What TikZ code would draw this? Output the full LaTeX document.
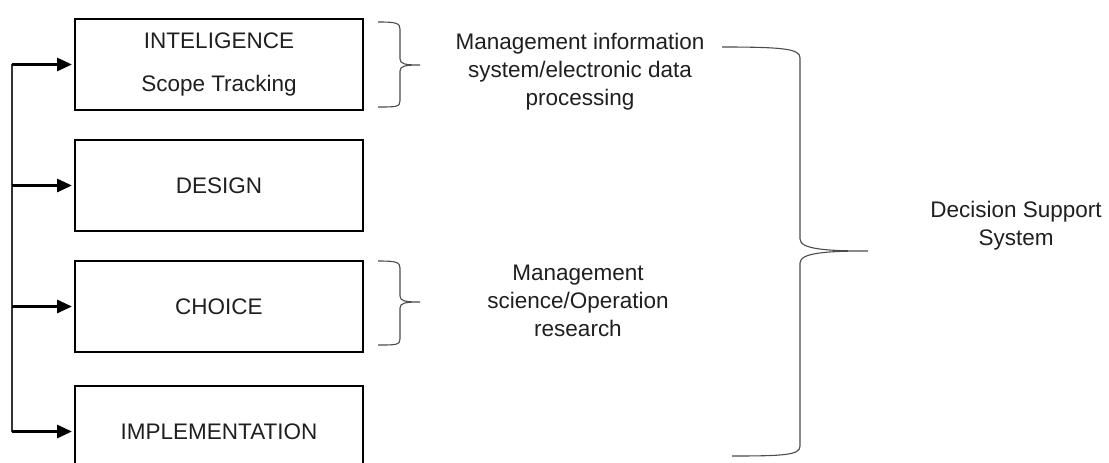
\documentclass[tikz,border=0pt]{standalone}
\usepackage{fontspec}
\setmainfont{Liberation Sans}
\usetikzlibrary{positioning,arrows.meta,calc}

\newcommand\dssfont{\fontsize{22.5}{28}\selectfont}

\begin{document}
\begin{tikzpicture}[
    x=1pt, y=-1pt,
    node distance=28pt,
    font=\dssfont,
    phase/.style={draw, line width=2pt, minimum width=288pt, minimum height=91pt, align=center, inner sep=0pt, text=black!88},
    feed/.style={-{Triangle[length=15pt, width=13pt]}, line width=3pt, shorten >=2pt},
    curly/.style={draw=black!70, line width=1.1pt},
    note/.style={align=center, text=black!88},
]
    \clip (0,0) rectangle (1109,463);

    % the four phases
    \node[phase] (intel) at (219,64.5) {INTELIGENCE\\[15pt]Scope Tracking};
    \node[phase, below=of intel] (design) {DESIGN};
    \node[phase, below=of design] (choice) {CHOICE};
    \node[phase, below=32pt of choice] (impl) {IMPLEMENTATION};

    % feedback line on the left
    \coordinate (spine) at (12,64);
    \draw[line width=1.6pt, black!80] (spine) -- (impl.west -| spine);
    \foreach \b in {intel, design, choice, impl} {
        \draw[feed] (\b.west -| spine) -- (\b.west);
    }

    % small braces
    \coordinate (mistip) at (420,65);
    \coordinate (mstip) at (420,302);
    \draw[curly] (378,22) .. controls (396,22) and (400,23) .. (400,29) -- (400,59)
        .. controls (400,64) and (405,65) .. (mistip)
        .. controls (405,65) and (400,66) .. (400,71) -- (400,101)
        .. controls (400,107) and (396,107) .. (378,107);
    \draw[curly] (378,261) .. controls (396,261) and (400,262) .. (400,268) -- (400,296)
        .. controls (400,301) and (405,302) .. (mstip)
        .. controls (405,302) and (400,303) .. (400,308) -- (400,339)
        .. controls (400,345) and (396,345) .. (378,345);

    \node[note] (mis) at (580,72) {Management information\\system/electronic data\\processing};
    \node[note] (ms) at (578,301) {Management\\science/Operation\\research};

    % large brace
    \coordinate (dsstip) at (868,251);
    \draw[curly] (722,47) .. controls (785,47) and (800,49) .. (800,58) -- (800,239)
        .. controls (800,249) and (825,251) .. (dsstip)
        .. controls (825,251) and (800,253) .. (800,263) -- (800,446)
        .. controls (800,455) and (785,456) .. (732,456);

    \node[note] (dss) at (1016,226) {Decision Support\\System};
\end{tikzpicture}
\end{document}
